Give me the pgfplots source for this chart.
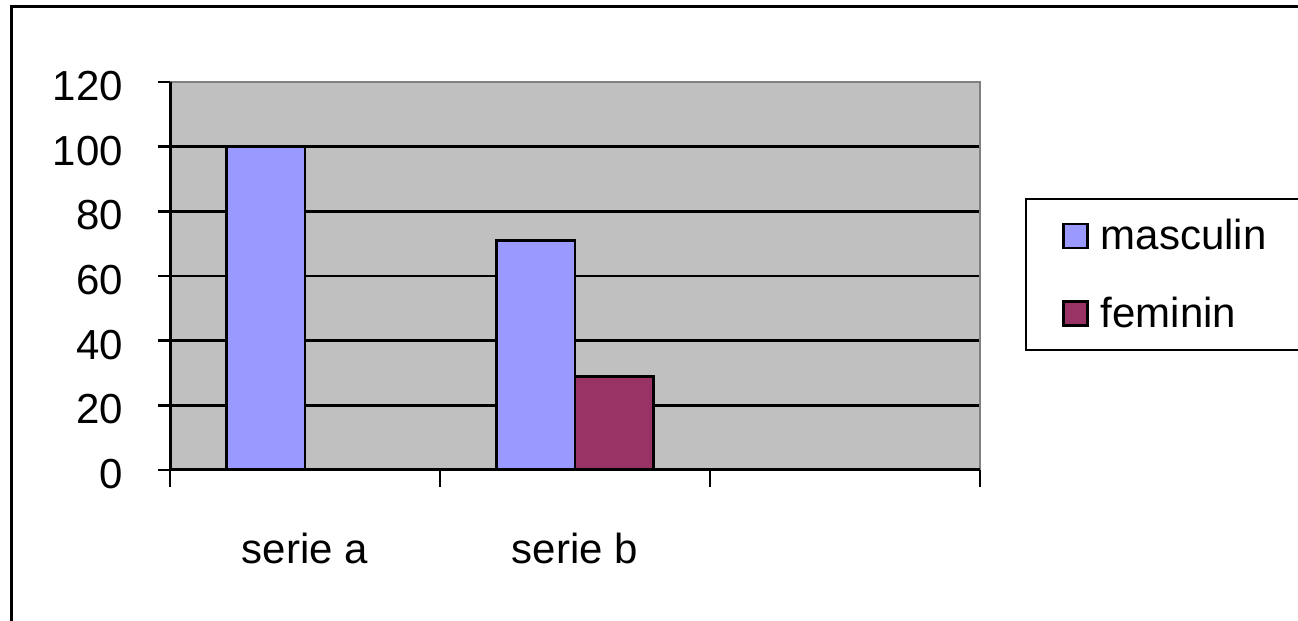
\documentclass[border=0pt]{standalone}
\usepackage{fontspec}
\setmainfont{Liberation Sans}
\usepackage{pgfplots}
\pgfplotsset{compat=1.18}
\definecolor{masc}{HTML}{9999FF}
\definecolor{fem}{HTML}{993366}
\definecolor{plotbg}{HTML}{C0C0C0}
\definecolor{frame}{HTML}{808080}
\begin{document}
\begin{tikzpicture}
\useasboundingbox (0,0) rectangle (649pt,310.5pt);
% outer chart frame (right and bottom edges lie outside the picture)
\draw[line width=1.5pt] (5.5pt,-10pt) -- (5.5pt,307pt) -- (670pt,307pt);
\begin{axis}[
  name=ax,
  at={(85pt,75.5pt)}, anchor=south west,
  scale only axis, width=405pt, height=194pt,
  xmin=0, xmax=3, ymin=0, ymax=120,
  clip=false,
  axis background/.style={fill=plotbg},
  axis x line*=bottom, axis y line*=left,
  axis line style={black, line width=1.4pt},
  font=\fontsize{21}{25}\selectfont,
  /pgf/number format/assume math mode=true,
  ytick={0,20,...,100}, ymajorgrids,
  extra y ticks={120}, extra y tick style={grid=none},
  grid style={black, line width=1.3pt},
  tick align=outside, major tick length=6pt,
  tick style={black, line width=1.3pt},
  yticklabel style={xshift=-14pt, yshift=-2pt},
  xtick={0.5,1.5}, xticklabels={serie a, serie b},
  major x tick style={draw=none},
  minor xtick={0,1,2,3}, minor tick length=8.5pt,
  minor x tick style={black, line width=1.3pt},
  xticklabel style={yshift=-22pt},
  legend style={at={(1.0556,0.701)}, anchor=north west, draw=black,
    line width=1.2pt, fill=white, font=\fontsize{21}{25}\selectfont,
    row sep=18pt, inner xsep=18pt, inner ysep=8pt},
  legend cell align=left,
  ybar,
]
\addplot[bar width=0.29, bar shift=-0.145, fill=masc, draw=black, line width=1.3pt,
  legend image code/.code={\draw[fill=masc, draw=black, line width=1.2pt] (0pt,-6pt) rectangle (12pt,6pt); \path (16pt,0pt);}]
  coordinates {(0.5,100) (1.5,71)};
\addplot[bar width=0.29, bar shift=0.145, fill=fem, draw=black, line width=1.3pt,
  legend image code/.code={\draw[fill=fem, draw=black, line width=1.2pt] (0pt,-6pt) rectangle (12pt,6pt); \path (16pt,0pt);}]
  coordinates {(0.5,0) (1.5,29)};
\legend{masculin, feminin}
\end{axis}
% grey top and right border of the plot area, then the black axes
\draw[frame, line width=1.4pt] (ax.north west) -- (ax.north east) -- (ax.south east);
\draw[black, line width=1.5pt] (ax.north west) -- (ax.south west) -- (ax.south east);
\end{tikzpicture}
\end{document}
